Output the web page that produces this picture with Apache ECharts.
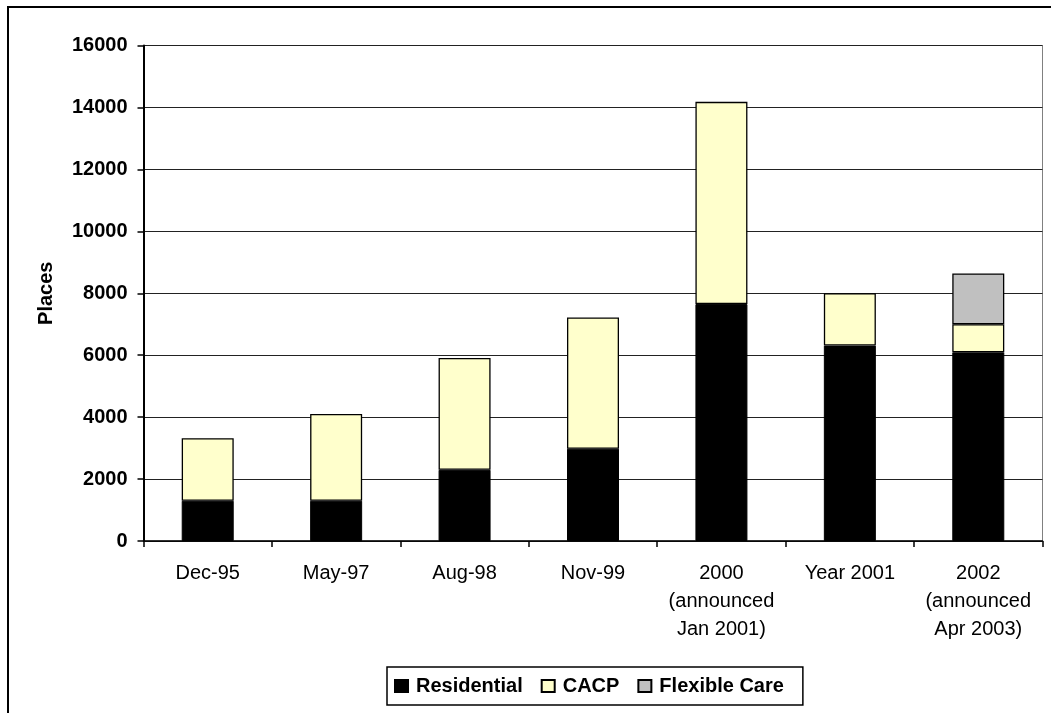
<!DOCTYPE html>
<html>
<head>
<meta charset="utf-8">
<script src="https://cdn.jsdelivr.net/npm/echarts@6/dist/echarts.min.js"></script>
<style>
html,body{margin:0;padding:0;background:#fff;}
#chart{width:1051px;height:713px;}
</style>
</head>
<body>
<div id="chart"></div>
<script>
var categories = ['Dec-95', 'May-97', 'Aug-98', 'Nov-99', '2000\n(announced\nJan 2001)', 'Year 2001', '2002\n(announced\nApr 2003)'];
var residential = [1300, 1300, 2300, 2980, 7650, 6310, 6090];
var cacp = [2020, 2800, 3610, 4240, 6530, 1690, 910];
var flexibleCare = ['-', '-', '-', '-', '-', '-', 1640];
var yTicks = [0, 2000, 4000, 6000, 8000, 10000, 12000, 14000, 16000];

var FONT = 'Arial, "Liberation Sans", sans-serif';
var chart = echarts.init(document.getElementById('chart'));
chart.setOption({
  animation: false,
  backgroundColor: '#ffffff',
  graphic: [{
    type: 'rect',
    shape: { x: 8, y: 7, width: 1200, height: 900 },
    style: { fill: 'none', stroke: '#000', lineWidth: 2 },
    silent: true, z: 100
  }],
  grid: {
    left: 143.5, top: 45.5, right: 8.5, bottom: 172,
    show: true, borderColor: '#808080', borderWidth: 1, backgroundColor: 'transparent'
  },
  legend: {
    left: 387, top: 667,
    orient: 'horizontal',
    icon: 'rect',
    itemWidth: 13, itemHeight: 12, itemGap: 18,
    padding: [9, 19, 9, 7],
    borderColor: '#000', borderWidth: 1.5,
    textStyle: { fontFamily: FONT, fontSize: 20, fontWeight: 'bold', color: '#000', padding: [0, 0, 0, 3] },
    data: ['Residential', 'CACP', 'Flexible Care']
  },
  xAxis: {
    type: 'category',
    data: categories,
    axisLine: { lineStyle: { color: '#000', width: 1.5 } },
    axisTick: { show: true, length: 6, inside: false, lineStyle: { color: '#000', width: 1.5 } },
    axisLabel: { fontFamily: FONT, fontSize: 20, color: '#000', lineHeight: 28, margin: 18, interval: 0 }
  },
  yAxis: {
    type: 'value',
    min: yTicks[0], max: yTicks[yTicks.length - 1], interval: 2000,
    name: 'Places', nameLocation: 'middle', nameGap: 87,
    nameTextStyle: { fontFamily: FONT, fontSize: 20, fontWeight: 'bold', color: '#000' },
    axisLine: { show: true, lineStyle: { color: '#000', width: 2 } },
    axisTick: { show: true, length: 6, lineStyle: { color: '#000', width: 1.5 } },
    axisLabel: { fontFamily: FONT, fontSize: 20, fontWeight: 'bold', color: '#000', margin: 16,
      formatter: function (v) { return String(v); } },
    splitLine: { show: true, lineStyle: { color: '#222', width: 1 } }
  },
  series: [
    { name: 'Residential', type: 'bar', stack: 'total', barWidth: 52, data: residential,
      itemStyle: { color: '#000000', borderColor: '#000', borderWidth: 1 } },
    { name: 'CACP', type: 'bar', stack: 'total', barWidth: 52, data: cacp,
      itemStyle: { color: '#FFFFCC', borderColor: '#000', borderWidth: 1.3 } },
    { name: 'Flexible Care', type: 'bar', stack: 'total', barWidth: 52, data: flexibleCare,
      itemStyle: { color: '#C0C0C0', borderColor: '#000', borderWidth: 1.3 } }
  ]
});
</script>
</body>
</html>
